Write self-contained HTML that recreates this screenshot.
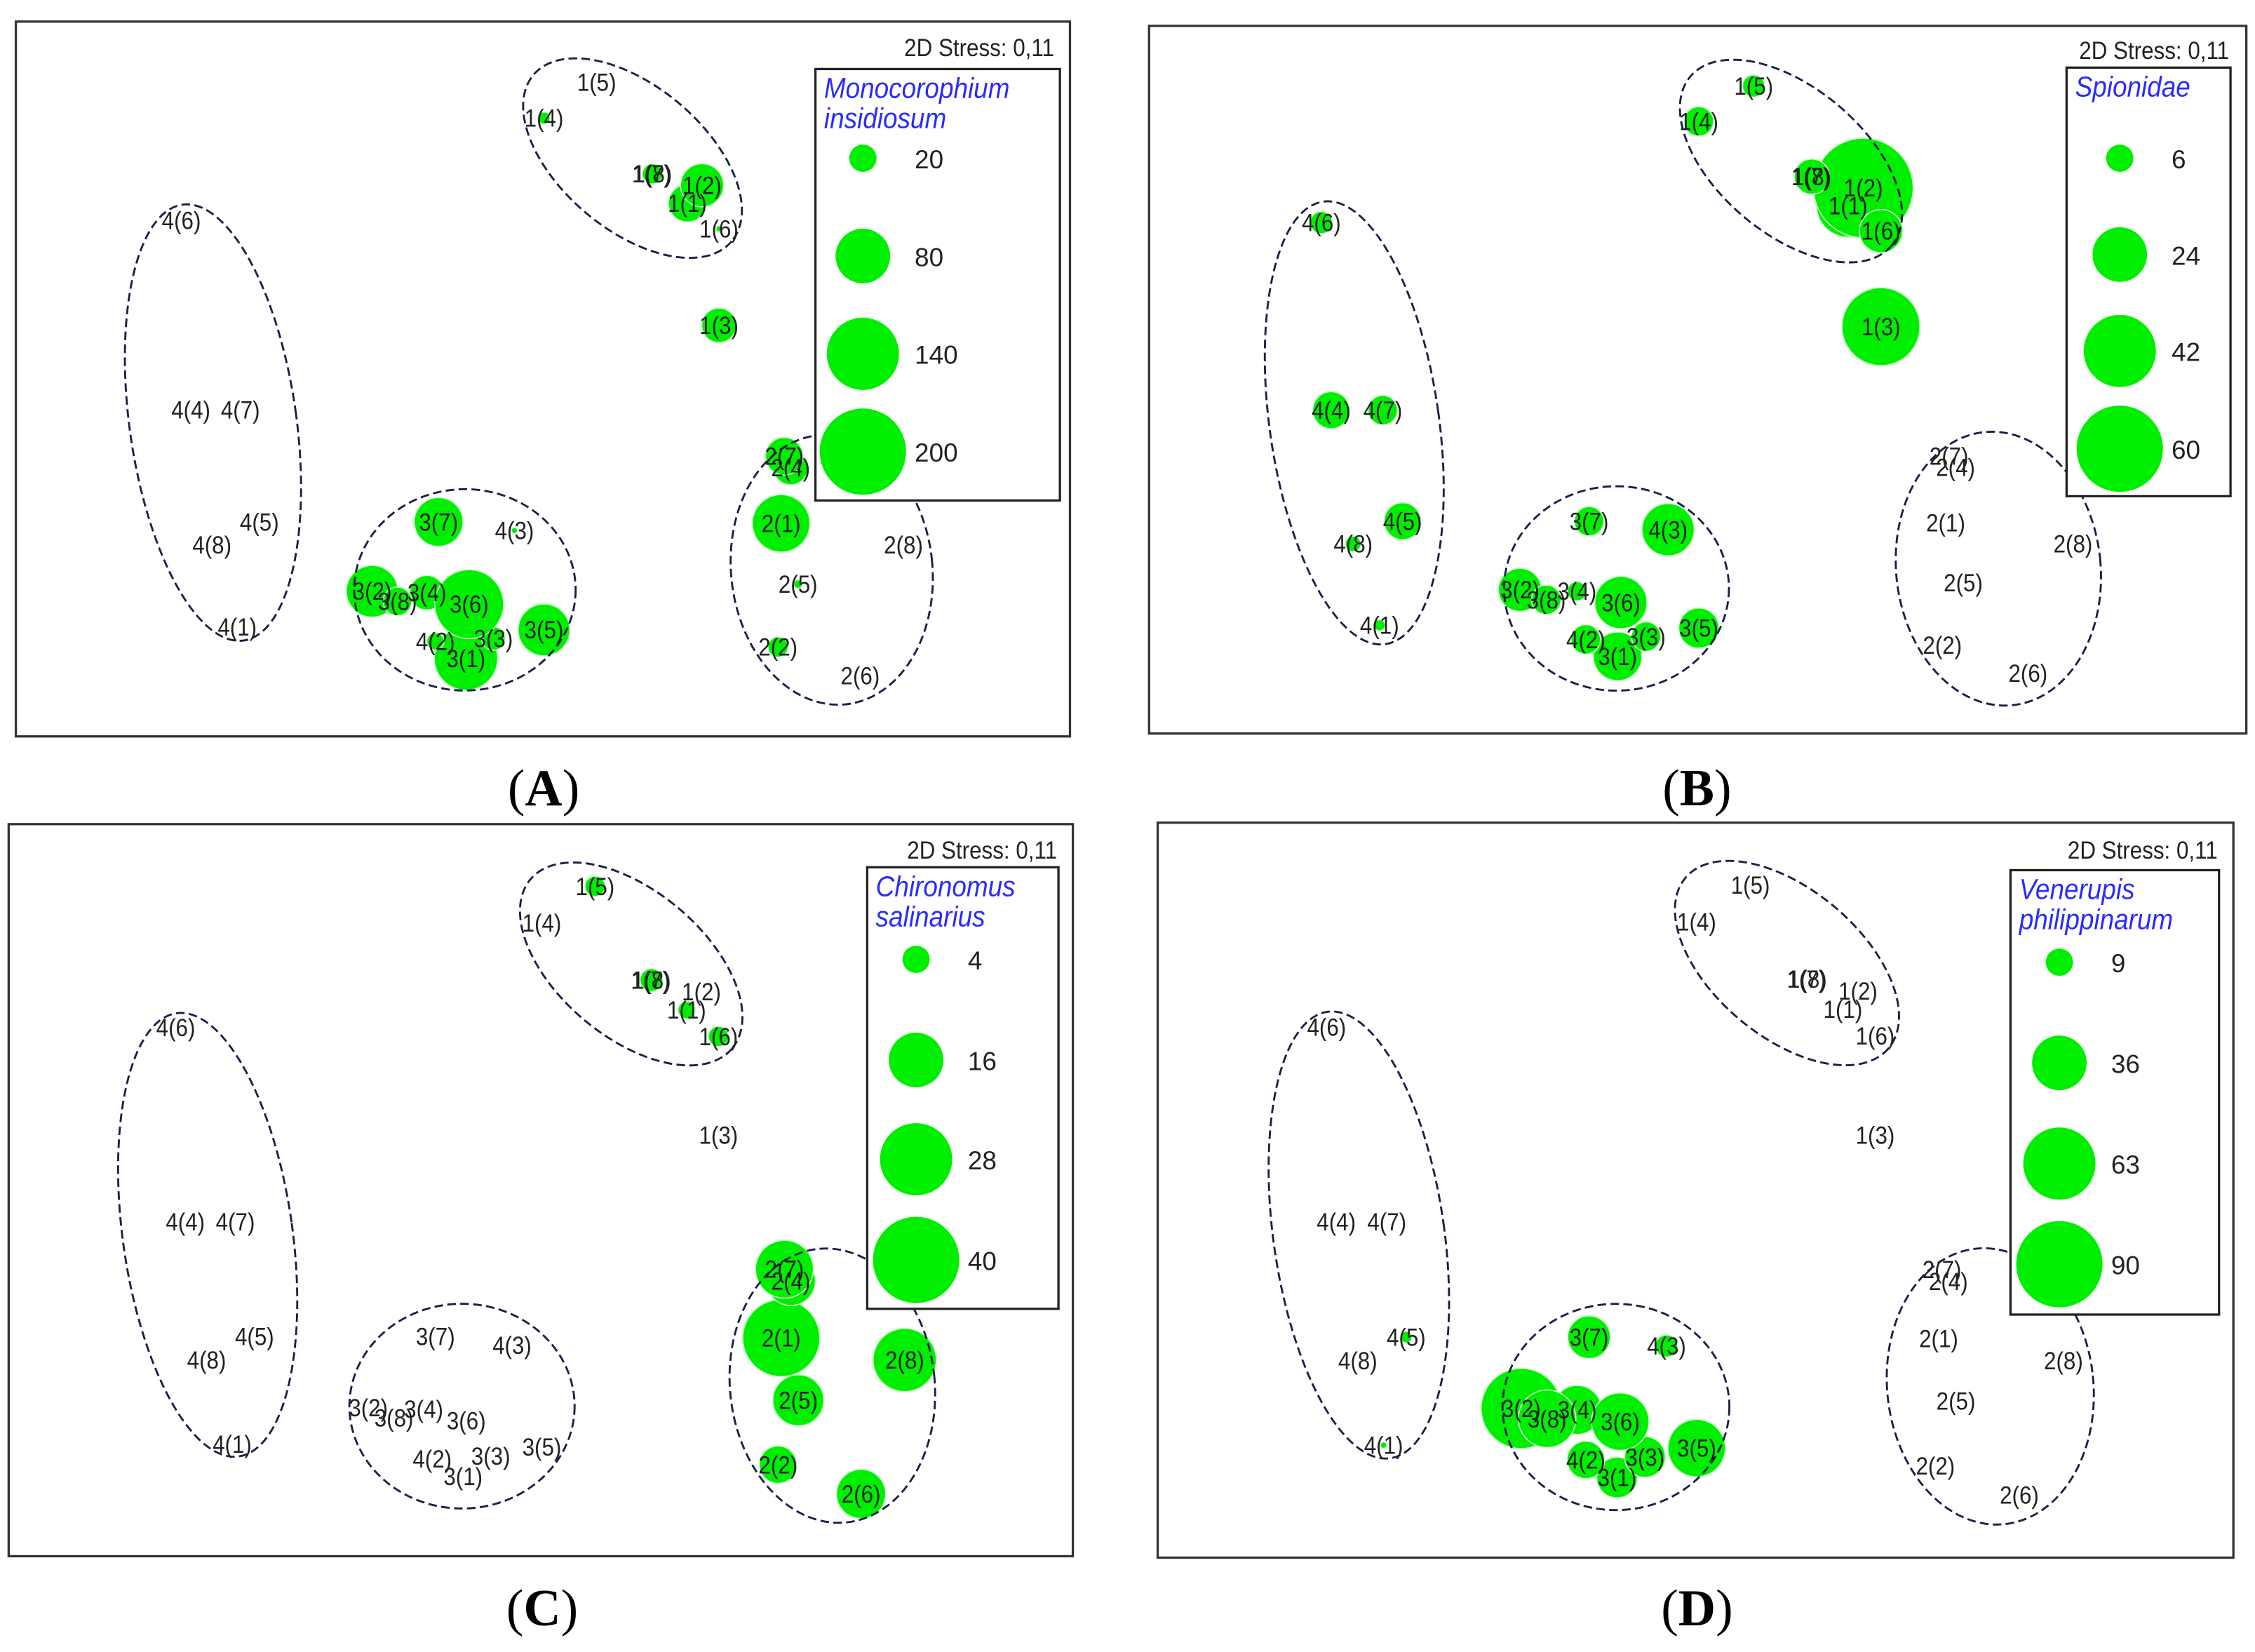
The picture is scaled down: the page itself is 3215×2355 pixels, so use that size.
<!DOCTYPE html>
<html><head><meta charset="utf-8"><style>
html,body{margin:0;padding:0;background:#fff;}
svg{display:block;}
</style></head><body>
<svg id="fig" width="3215" height="2355" viewBox="0 0 1568 1148.6" xmlns="http://www.w3.org/2000/svg"></svg>
<script>
// MDS configuration (normalized ordination coordinates)
const sampleLabels = ["1(1)","1(2)","1(3)","1(4)","1(5)","1(6)","1(7)","1(8)","2(1)","2(2)","2(4)","2(5)","2(6)","2(7)","2(8)","3(1)","3(2)","3(3)","3(4)","3(5)","3(6)","3(7)","3(8)","4(1)","4(2)","4(3)","4(4)","4(5)","4(6)","4(7)","4(8)"];
const mdsX = [.637,.651,.667,.501,.551,.667,.603,.604,.726,.723,.735,.742,.801,.729,.842,.427,.338,.453,.390,.501,.430,.401,.362,.210,.398,.473,.166,.231,.157,.213,.186];
const mdsY = [.254,.229,.425,.135,.085,.290,.213,.213,.702,.875,.624,.787,.915,.608,.732,.891,.797,.863,.799,.851,.815,.700,.811,.847,.867,.712,.543,.700,.278,.543,.732];
// abundances per species
const valuesA = [38,50,32,4,0,1,0,11,89,11,32,2,0,38,0,108,72,15,32,72,128,64,22,0,8,1,0,0,0,0,0];
const valuesB = [32,80,49,7,4,15,0,10,0,0,0,0,0,0,0,19,15,7,3,13,22,7,7,1,7,22,11,11,4,7,2];
const valuesC = [1.6,0,0,0,2.2,2.2,0,2.8,32,7.5,13,14,13,18,21.5,0,0,0,0,0,0,0,0,0,0,0,0,0,0,0,0];
const valuesD = [0,0,0,0,0,0,0,0,0,0,0,0,0,0,0,20,78,20,29,40,40,22,40,0.5,17,6,0,1.6,0,0,0];
const legendA = [20,80,140,200];
const legendB = [6,24,42,60];
const legendC = [4,16,28,40];
const legendD = [9,36,63,90];
const NS="http://www.w3.org/2000/svg";
const svg=document.getElementById('fig');
function mk(tag,attrs,parent){const e=document.createElementNS(NS,tag);for(const k in attrs)e.setAttribute(k,attrs[k]);(parent||svg).appendChild(e);return e;}
const ellipses=[
 {cx:.585,cy:.191,rx:90,ry:50,rot:40},
 {cx:.187,cy:.561,rx:58,ry:153,rot:-8},
 {cx:.426,cy:.795,rx:77,ry:70,rot:0},
 {cx:.774,cy:.767,rx:70,ry:94,rot:-6}];
const panels=[
 {id:'a',box:[11,15,733,497],vals:valuesA,leg:legendA,title:["Monocorophium","insidiosum"],lbox:[567,48,170,300],lx:600,ly:[110,178,246,314],stress:[733,39],cap:"(A)",capx:378,capy:560},
 {id:'b',box:[799,18,763,492],vals:valuesB,leg:legendB,title:["Spionidae"],lbox:[1437,47,114,298],lx:1474,ly:[110,177,244,312],stress:[1550,41],cap:"(B)",capx:1180,capy:560},
 {id:'c',box:[6,573,740,509],vals:valuesC,leg:legendC,title:["Chironomus","salinarius"],lbox:[603,603,133,307],lx:637,ly:[667,737,806,876],stress:[735,597],cap:"(C)",capx:377,capy:1130},
 {id:'d',box:[805,572,748,511],vals:valuesD,leg:legendD,title:["Venerupis","philippinarum"],lbox:[1398,605,145,309],lx:1432,ly:[669,739,809,879],stress:[1542,597],cap:"(D)",capx:1180,capy:1130}];
panels.forEach(p=>{
 const g=mk('g',{});
 
 
 const [bx,by,bw,bh]=p.box;
 const fr=mk('rect',{x:bx,y:by,width:bw,height:bh,fill:'#fff',stroke:'#333',"stroke-width":1.6},g);
 
 
 const sx=bw/733, sy=bh/497;
 const X=v=>bx+v*bw, Y=v=>by+v*bh;
 const vmax=Math.max(...p.leg), k=30/Math.sqrt(vmax);
 sampleLabels.forEach((l,i)=>{
  const v=p.vals[i]; if(v<=0) return;
  const c=mk('circle',{cx:X(mdsX[i]),cy:Y(mdsY[i]),r:k*Math.sqrt(v),fill:'#00ee00',stroke:'#ccffcc',"stroke-width":0.8},g);
  
  
 });
 ellipses.forEach((e,j)=>{
  const cx=X(e.cx), cy=Y(e.cy);
  const el=mk('ellipse',{cx:cx,cy:cy,rx:e.rx*(sx+sy)/2,ry:e.ry*(sx+sy)/2,fill:'none',stroke:'#1a1f4a',"stroke-width":1.4,"stroke-dasharray":"6,3",transform:`rotate(${e.rot} ${cx} ${cy})`},g);
  
  
 });
 sampleLabels.forEach((l,i)=>{
  const x=X(mdsX[i]);
  const t=mk('text',{x:x,y:Y(mdsY[i])+6,"text-anchor":"middle","font-family":"Liberation Sans, sans-serif","font-size":17,fill:'#222',transform:`translate(${x*0.1} 0) scale(0.9 1)`},g);
  t.textContent=l;
  
  
 });
 const st=mk('text',{x:p.stress[0],y:p.stress[1],"text-anchor":"end","font-family":"Liberation Sans, sans-serif","font-size":17,fill:'#222',transform:`translate(${p.stress[0]*0.1} 0) scale(0.9 1)`},g);
 st.textContent="2D Stress: 0,11";
 
 
 const lg=mk('g',{},g);
 
 
 const [lx0,ly0,lw,lh]=p.lbox;
 mk('rect',{x:lx0,y:ly0,width:lw,height:lh,fill:'#fff',stroke:'#222',"stroke-width":1.6},lg);
 p.title.forEach((s,j)=>{
  const tx=lx0+6;
  const t=mk('text',{x:tx,y:ly0+20+j*21,"font-family":"Liberation Sans, sans-serif","font-size":20,"font-style":"italic",fill:'#2a2aff',transform:`translate(${tx*0.1} 0) scale(0.9 1)`},lg);
  t.textContent=s;
  
  
 });
 p.leg.forEach((v,j)=>{
  const c=mk('circle',{cx:p.lx,cy:p.ly[j],r:k*Math.sqrt(v),fill:'#00ee00'},lg);
  
  
  const t=mk('text',{x:p.lx+36,y:p.ly[j]+7,"font-family":"Liberation Sans, sans-serif","font-size":18,fill:'#222'},lg);
  t.textContent=v;
  
  
 });
 const cp=mk('text',{x:p.capx,y:p.capy,"text-anchor":"middle","font-family":"Liberation Serif, serif","font-size":36,fill:'#000'},g);
 cp.innerHTML='(<tspan font-weight="bold">'+p.cap.slice(1,2)+'</tspan>)';
 
 
});
</script>
</body></html>
